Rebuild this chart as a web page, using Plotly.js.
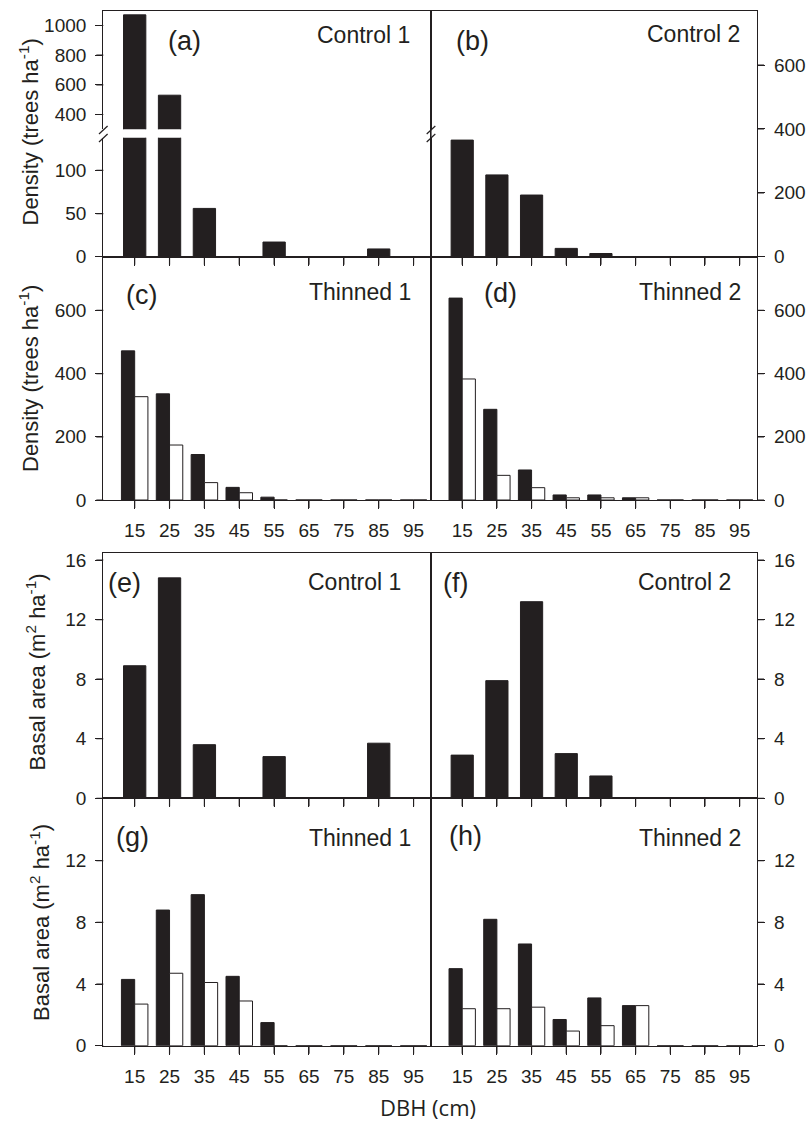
<!DOCTYPE html>
<html>
<head>
<meta charset="utf-8">
<script src="https://cdn.plot.ly/plotly-3.0.1.min.js"></script>
<style>html,body{margin:0;padding:0;background:#fff;}#chart{width:807px;height:1123px;}</style>
</head>
<body>
<div id="chart"></div>
<script>
// ---- data ----
const dbh = [15, 25, 35, 45, 55, 65, 75, 85, 95];
const dbhLabels = ['15', '25', '35', '45', '55', '65', '75', '85', '95'];

const densControl1 = [1072, 530, 56, 0, 17, 0, 0, 9, 0];
const densControl2 = [365, 256, 193, 26, 10, 0, 0, 0, 0];
const densThinned1Before = [472, 336, 144, 40, 9, 0, 0, 0, 0];
const densThinned1After = [327, 174, 55, 23, 0, 0, 0, 0, 0];
const densThinned2Before = [639, 287, 95, 16, 16, 7, 0, 0, 0];
const densThinned2After = [383, 78, 39, 7, 7, 7, 0, 0, 0];

const baControl1 = [8.9, 14.8, 3.6, 0, 2.8, 0, 0, 3.7, 0];
const baControl2 = [2.9, 7.9, 13.2, 3.0, 1.5, 0, 0, 0, 0];
const baThinned1Before = [4.3, 8.8, 9.8, 4.5, 1.5, 0, 0, 0, 0];
const baThinned1After = [2.7, 4.7, 4.1, 2.9, 0, 0, 0, 0, 0];
const baThinned2Before = [5.0, 8.2, 6.6, 1.7, 3.1, 2.6, 0, 0, 0];
const baThinned2After = [2.4, 2.4, 2.5, 0.95, 1.3, 2.6, 0, 0, 0];

const densTicksUpper = [400, 600, 800, 1000];
const densTicksLower = [0, 50, 100];
const densTicks = [0, 200, 400, 600];
const baTicksTop = [0, 4, 8, 12, 16];
const baTicksBottom = [0, 4, 8, 12];

const panelLetters = ['(a)', '(b)', '(c)', '(d)', '(e)', '(f)', '(g)', '(h)'];
const panelNames = ['Control 1', 'Control 2', 'Thinned 1', 'Thinned 2', 'Control 1', 'Control 2', 'Thinned 1', 'Thinned 2'];

// ---- layout helpers ----
const W = 807, H = 1123;
const ink = '#231f20';
const FONT = 'Liberation Sans, Arial, sans-serif';
const px = v => v / W;
const py = v => 1 - v / H;
const xL = [px(103.3), px(431)];
const xR = [px(431), px(757)];
const rowDom = (top, bot) => [py(bot), py(top)];
const XLEN = 8, YLEN = 7;

function tickFont() { return {family: FONT, size: 19, color: ink}; }

function xAxis(dom, anchor, labels, extra) {
  return Object.assign({
    domain: dom, anchor: anchor, range: [6, 100],
    tickmode: 'array', tickvals: dbh, ticktext: dbhLabels,
    ticks: 'outside', ticklen: XLEN, tickwidth: 1.2, tickcolor: ink,
    showline: true, linecolor: ink, linewidth: 1.2, mirror: true,
    showgrid: false, zeroline: false, showticklabels: labels,
    tickfont: tickFont(), ticklabelstandoff: 5
  }, extra || {});
}
function yAxis(dom, anchor, side, range, tv, extra) {
  return Object.assign({
    domain: dom, anchor: anchor, side: side, range: range,
    tickmode: 'array', tickvals: tv,
    ticks: 'outside', ticklen: YLEN, tickwidth: 1.2, tickcolor: ink,
    showline: true, linecolor: ink, linewidth: 1.2, mirror: true,
    showgrid: false, zeroline: false, showticklabels: true,
    tickfont: tickFont(), ticklabelstandoff: 5
  }, extra || {});
}

const barLine = {color: ink, width: 1};
function single(y, xa, ya) {
  return {type: 'bar', x: dbh, y: y, xaxis: xa, yaxis: ya, width: 6.4,
    marker: {color: ink, line: barLine}};
}
function pair(yb, ya2, xa, ya) {
  return [
    {type: 'bar', x: dbh, y: yb, xaxis: xa, yaxis: ya, width: 3.8, offset: -3.8,
      marker: {color: ink, line: barLine}},
    {type: 'bar', x: dbh, y: ya2, xaxis: xa, yaxis: ya, width: 3.8, offset: 0,
      marker: {color: '#ffffff', line: barLine}}
  ];
}

const traces = [
  single(densControl1, 'x', 'y'),
  single(densControl1, 'x2', 'y2'),
  single(densControl2, 'x3', 'y3'),
  ...pair(densThinned1Before, densThinned1After, 'x4', 'y4'),
  ...pair(densThinned2Before, densThinned2After, 'x5', 'y5'),
  single(baControl1, 'x6', 'y6'),
  single(baControl2, 'x7', 'y7'),
  ...pair(baThinned1Before, baThinned1After, 'x8', 'y8'),
  ...pair(baThinned2Before, baThinned2After, 'x9', 'y9')
];

const rUpA = rowDom(10.7, 129.3);
const rLoA = rowDom(137.7, 256.7);
const r1 = rowDom(10.7, 256.7);
const r2 = rowDom(256.7, 500);
const r3 = rowDom(553.3, 798.3);
const r4 = rowDom(798.3, 1045.7);

const layout = {
  width: W, height: H,
  margin: {l: 0, r: 0, t: 0, b: 0},
  paper_bgcolor: '#ffffff', plot_bgcolor: 'rgba(0,0,0,0)',
  showlegend: false, barmode: 'overlay',
  font: {family: FONT, color: ink},
  xaxis: xAxis(xL, 'y', false, {side: 'top', ticks: '', mirror: false}),
  yaxis: yAxis(rUpA, 'x', 'left', [300, 1100], densTicksUpper),
  xaxis2: xAxis(xL, 'y2', false, {mirror: false}),
  yaxis2: yAxis(rLoA, 'x2', 'left', [0, 138], densTicksLower),
  xaxis3: xAxis(xR, 'y3', false),
  yaxis3: yAxis(r1, 'x3', 'right', [0, 770], densTicks),
  xaxis4: xAxis(xL, 'y4', true),
  yaxis4: yAxis(r2, 'x4', 'left', [0, 770], densTicks),
  xaxis5: xAxis(xR, 'y5', true),
  yaxis5: yAxis(r2, 'x5', 'right', [0, 770], densTicks),
  xaxis6: xAxis(xL, 'y6', false),
  yaxis6: yAxis(r3, 'x6', 'left', [0, 16.45], baTicksTop),
  xaxis7: xAxis(xR, 'y7', false),
  yaxis7: yAxis(r3, 'x7', 'right', [0, 16.45], baTicksTop),
  xaxis8: xAxis(xL, 'y8', true),
  yaxis8: yAxis(r4, 'x8', 'left', [0, 16.05], baTicksBottom),
  xaxis9: xAxis(xR, 'y9', true),
  yaxis9: yAxis(r4, 'x9', 'right', [0, 16.05], baTicksBottom),
  annotations: [],
  shapes: []
};

// explicit tick marks drawn on the library's axis scales (one per tick value)
const tickLine = {color: ink, width: 1.2};
function xTickMarks(n) {
  const xa = layout['xaxis' + (n === 1 ? '' : n)];
  const ya = layout['yaxis' + (n === 1 ? '' : n)];
  const hPx = (ya.domain[1] - ya.domain[0]) * H;
  const id = n === 1 ? '' : n;
  xa.tickvals.forEach(v => layout.shapes.push({type: 'line', xref: 'x' + id, yref: 'y' + id + ' domain',
    x0: v, x1: v, y0: 0, y1: -XLEN / hPx, line: tickLine}));
}
function yTickMarks(n) {
  const xa = layout['xaxis' + (n === 1 ? '' : n)];
  const ya = layout['yaxis' + (n === 1 ? '' : n)];
  const wPx = (xa.domain[1] - xa.domain[0]) * W;
  const id = n === 1 ? '' : n;
  const right = ya.side === 'right';
  ya.tickvals.forEach(v => layout.shapes.push({type: 'line', xref: 'x' + id + ' domain', yref: 'y' + id,
    x0: right ? 1 : 0, x1: right ? 1 + YLEN / wPx : -YLEN / wPx, y0: v, y1: v, line: tickLine}));
}
[2, 3, 4, 5, 6, 7, 8, 9].forEach(xTickMarks);
[1, 2, 3, 4, 5, 6, 7, 8, 9].forEach(yTickMarks);

const letterPos = [[166.7, 40.5], [455, 40.5], [125, 295], [483, 293], [106.7, 582.5], [441.7, 583], [115, 837], [448.3, 836]];
const namePos = [[410.7, 35.3], [740.7, 34.2], [411.7, 291.7], [741.7, 291.7], [401.7, 582], [731.7, 582], [411.7, 838], [741.7, 838]];
panelLetters.forEach((t, i) => {
  layout.annotations.push({text: t, xref: 'paper', yref: 'paper', x: px(letterPos[i][0]), y: py(letterPos[i][1]),
    xanchor: 'left', yanchor: 'middle', showarrow: false, borderpad: 0,
    font: {family: FONT, size: 27, color: ink}});
});
panelNames.forEach((t, i) => {
  layout.annotations.push({text: t, xref: 'paper', yref: 'paper', x: px(namePos[i][0]), y: py(namePos[i][1]),
    xanchor: 'right', yanchor: 'middle', showarrow: false, borderpad: 0,
    font: {family: FONT, size: 23, color: ink}});
});

const yTitles = [
  ['Density (trees ha<sup>-1</sup>)', 29, 132.5],
  ['Density (trees ha<sup>-1</sup>)', 29, 379],
  ['Basal area (m<sup>2</sup> ha<sup>-1</sup>)', 35, 672.5],
  ['Basal area (m<sup>2</sup> ha<sup>-1</sup>)', 40, 923]
];
yTitles.forEach(t => {
  layout.annotations.push({text: t[0], xref: 'paper', yref: 'paper', x: px(t[1]), y: py(t[2]),
    xanchor: 'center', yanchor: 'middle', textangle: -90, showarrow: false, borderpad: 0,
    font: {family: FONT, size: 22, color: ink}});
});

layout.annotations.push({text: 'DBH (cm)', xref: 'paper', yref: 'paper', x: px(428), y: py(1106.5),
  xanchor: 'center', yanchor: 'middle', showarrow: false, borderpad: 0,
  font: {family: 'Open Sans, Noto Sans, sans-serif', size: 22, color: ink}});

// broken-axis marks
function seg(x0, y0, x1, y1) {
  layout.shapes.push({type: 'line', xref: 'paper', yref: 'paper', x0: px(x0), y0: py(y0), x1: px(x1), y1: py(y1),
    line: {color: ink, width: 1.2}});
}
[103.3, 431].forEach(cx => {
  seg(cx - 4.3, 134, cx + 4.3, 126);
  seg(cx - 4.3, 142, cx + 4.3, 134);
});
seg(431, 129.3, 431, 137.7);

Plotly.newPlot('chart', traces, layout, {displayModeBar: false});
</script>
</body>
</html>
